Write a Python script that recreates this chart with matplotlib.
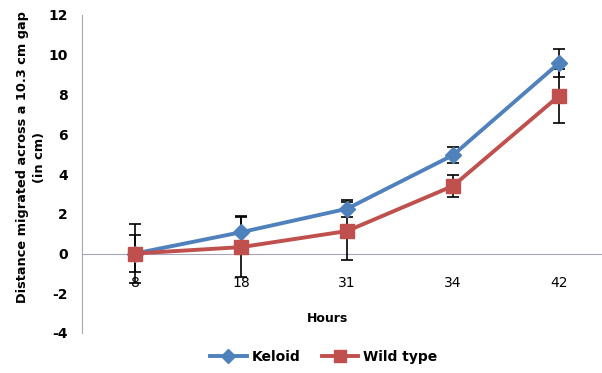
import matplotlib
matplotlib.use("Agg")
import matplotlib.pyplot as plt
from matplotlib.lines import Line2D
import numpy as np

hours = ["8", "18", "31", "34", "42"]
keloid = [0.0, 1.07, 2.25, 4.95, 9.58]
keloid_err = [0.94, 0.8, 0.42, 0.42, 0.7]
wild = [0.0, 0.32, 1.13, 3.4, 7.93]
wild_err = [1.46, 1.5, 1.48, 0.57, 1.36]
yticks = [-4, -2, 0, 2, 4, 6, 8, 10, 12]

plt.rcParams['font.family'] = ['DejaVu Sans']
fig = plt.figure(figsize=(6.02, 3.73), dpi=100)
ax = fig.add_axes([82/602, 1-333/373, 530/602, 318/373])
x = np.arange(len(hours))

blue = '#4F81BD'
red = '#C0504D'
ax.errorbar(x, keloid, yerr=keloid_err, color=blue, lw=2.8, marker='D', ms=8,
            mfc=blue, mec=blue, ecolor='black', elinewidth=1.2, capsize=4, capthick=1.2,
            label='Keloid', zorder=3)
ax.errorbar(x, wild, yerr=wild_err, color=red, lw=2.8, marker='s', ms=10,
            mfc=red, mec=red, ecolor='black', elinewidth=1.2, capsize=4, capthick=1.2,
            label='Wild type', zorder=3)

ax.set_xlim(-0.5, 4.5)
ax.set_ylim(-4, 12)
ax.set_xticks(x)
ax.set_xticklabels(hours, fontsize=10, fontweight='bold')
ax.set_yticks(yticks)
ax.set_yticklabels([str(v) for v in yticks], fontsize=10, fontweight='bold')
ax.tick_params(axis='both', length=0)
ax.tick_params(axis='x', pad=16)
ax.tick_params(axis='y', pad=10)

for s in ['top', 'right']:
    ax.spines[s].set_visible(False)
ax.spines['bottom'].set_position(('data', 0))
ax.spines['bottom'].set_color('#A6A6B8')
ax.spines['left'].set_color('#A6A6A6')

fig.text(31/602, 1-157/373, 'Distance migrated across a 10.3 cm gap\n(in cm)',
         fontsize=9.3, fontweight='bold', rotation=90, ha='center', va='center',
         multialignment='center', linespacing=1.35)
fig.text(328/602, 1-318/373, 'Hours', fontsize=9, fontweight='bold', ha='center', va='center')

h1 = Line2D([], [], color=blue, lw=2.8, marker='D', ms=7)
h2 = Line2D([], [], color=red, lw=2.8, marker='s', ms=9)
fig.legend([h1, h2], ['Keloid', 'Wild type'], loc='center', bbox_to_anchor=(324/602, 1-357/373),
           ncol=2, frameon=False, prop={'weight': 'bold', 'size': 10}, handlelength=2.6,
           columnspacing=1.5, handletextpad=0.4)

fig.savefig('out.png', dpi=100)
